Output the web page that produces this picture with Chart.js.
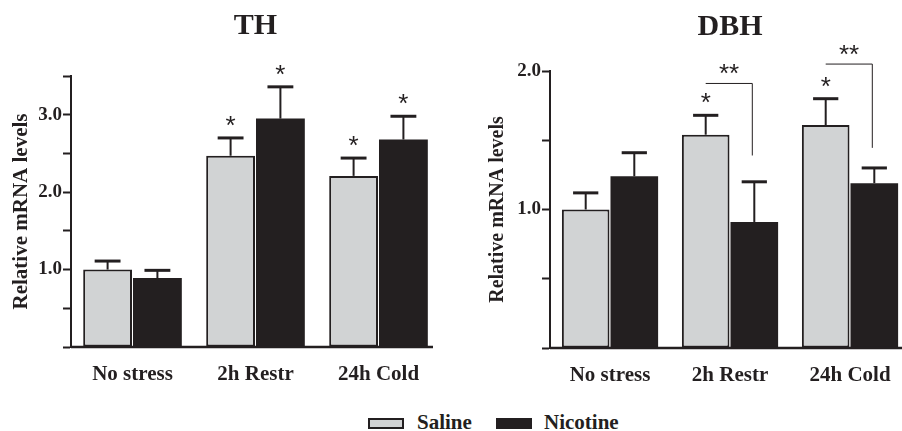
<!DOCTYPE html>
<html>
<head>
<meta charset="utf-8">
<script src="https://cdn.jsdelivr.net/npm/chart.js@4/dist/chart.umd.min.js"></script>
<style>
  html, body { margin: 0; padding: 0; background: #fff; }
  #page { position: relative; width: 902px; height: 431px; overflow: hidden; }
  #th { position: absolute; left: 0; top: 0; }
  #dbh { position: absolute; left: 470px; top: 0; }
  .key { position: absolute; top: 411px; height: 22px; font: bold 21px/22px "Liberation Serif", "Times New Roman", serif; color: #231f20; white-space: nowrap; }
  .swatch { position: absolute; top: 418px; width: 36px; height: 11px; box-sizing: border-box; border: 2px solid #231f20; }
</style>
</head>
<body>
<div id="page">
  <canvas id="th" width="450" height="400"></canvas>
  <canvas id="dbh" width="460" height="400"></canvas>
  <div class="swatch" style="left:368px;background:#d1d3d4;"></div>
  <div class="key" style="left:417px;">Saline</div>
  <div class="swatch" style="left:496px;background:#231f20;"></div>
  <div class="key" style="left:544px;">Nicotine</div>
</div>
<script>
// Groups along the x axis
const categories = ['No stress', '2h Restr', '24h Cold'];

// TH: mean relative mRNA and SEM
const thSaline = [1.00, 2.47, 2.21];
const thSalineSem = [0.11, 0.23, 0.23];
const thNicotine = [0.89, 2.95, 2.68];
const thNicotineSem = [0.10, 0.41, 0.30];
const thSalineMarks = ['', '*', '*'];
const thNicotineMarks = ['', '*', '*'];
const thTickLabels = ['1.0', '2.0', '3.0'];

// DBH: mean relative mRNA and SEM
const dbhSaline = [1.00, 1.54, 1.61];
const dbhSalineSem = [0.12, 0.14, 0.19];
const dbhNicotine = [1.24, 0.91, 1.19];
const dbhNicotineSem = [0.17, 0.29, 0.11];
const dbhSalineMarks = ['', '*', '*'];
const dbhNicotineMarks = ['', '', ''];
const dbhTickLabels = ['1.0', '2.0'];

// Saline vs nicotine comparison brackets (DBH)
const dbhPairMarks = ['', '**', '**'];
const dbhPairLevel = [null, 1.91, 2.05];
const dbhPairDrop = [null, 1.39, 1.445];

const INK = '#231f20';
const GREY = '#d1d3d4';
const SERIF = '"Liberation Serif", "Times New Roman", serif';
const STAR_FONT = '26px "Liberation Sans", Arial, sans-serif';

// Draws the x axis line, error bars, significance marks, brackets and panel title
const decorations = {
  id: 'decorations',
  afterDatasetsDraw(chart, args, opts) {
    const { ctx, chartArea, scales: { x, y } } = chart;
    ctx.save();
    ctx.strokeStyle = INK;
    ctx.fillStyle = INK;
    ctx.lineCap = 'butt';

    // x axis line
    ctx.lineWidth = 2.5;
    ctx.beginPath();
    ctx.moveTo(chartArea.left, chartArea.bottom);
    ctx.lineTo(chartArea.right - 7, chartArea.bottom);
    ctx.stroke();

    // error bars and per-bar marks
    chart.data.datasets.forEach((ds, di) => {
      const meta = chart.getDatasetMeta(di);
      meta.data.forEach((bar, i) => {
        const top = y.getPixelForValue(ds.data[i] + ds.sem[i]);
        const half = bar.width * 0.265;
        ctx.lineWidth = 2;
        ctx.beginPath();
        ctx.moveTo(bar.x, bar.y);
        ctx.lineTo(bar.x, top);
        ctx.stroke();
        ctx.lineWidth = 3;
        ctx.beginPath();
        ctx.moveTo(bar.x - half, top);
        ctx.lineTo(bar.x + half, top);
        ctx.stroke();
        if (ds.marks[i]) {
          ctx.font = STAR_FONT;
          ctx.textAlign = 'center';
          ctx.textBaseline = 'alphabetic';
          ctx.fillText(ds.marks[i], bar.x, top - 4);
        }
      });
    });

    // comparison brackets
    if (opts.pairMarks) {
      const s = chart.getDatasetMeta(0).data;
      const n = chart.getDatasetMeta(1).data;
      opts.pairMarks.forEach((mark, i) => {
        if (!mark) return;
        const yl = y.getPixelForValue(opts.pairLevel[i]);
        const yd = y.getPixelForValue(opts.pairDrop[i]);
        const x0 = s[i].x;
        const x1 = n[i].x - 2;
        ctx.lineWidth = 1;
        ctx.beginPath();
        ctx.moveTo(x0, yl);
        ctx.lineTo(x1, yl);
        ctx.lineTo(x1, yd);
        ctx.stroke();
        ctx.font = STAR_FONT;
        ctx.textAlign = 'center';
        ctx.textBaseline = 'alphabetic';
        ctx.fillText(mark, (x0 + x1) / 2, yl - 1);
      });
    }

    // panel title
    ctx.font = 'bold 30px ' + SERIF;
    ctx.textAlign = 'center';
    ctx.textBaseline = 'alphabetic';
    ctx.fillText(opts.title, (chartArea.left + chartArea.right) / 2, opts.titleBase);
    ctx.restore();
  }
};

function makeChart(id, cfg) {
  return new Chart(document.getElementById(id), {
    type: 'bar',
    data: {
      labels: categories,
      datasets: [
        { label: 'Saline', data: cfg.saline, sem: cfg.salineSem, marks: cfg.salineMarks,
          backgroundColor: GREY, borderColor: INK, borderWidth: 2, borderSkipped: false },
        { label: 'Nicotine', data: cfg.nicotine, sem: cfg.nicotineSem, marks: cfg.nicotineMarks,
          backgroundColor: INK, borderColor: INK, borderWidth: 0 }
      ]
    },
    options: {
      responsive: false,
      animation: false,
      events: [],
      datasets: { bar: { categoryPercentage: 0.81, barPercentage: 0.98 } },
      layout: { padding: { left: 0, right: cfg.padRight, top: cfg.padTop, bottom: 0 } },
      plugins: {
        legend: { display: false },
        tooltip: { enabled: false },
        decorations: {
          title: cfg.title, titleBase: cfg.titleBase,
          pairMarks: cfg.pairMarks, pairLevel: cfg.pairLevel, pairDrop: cfg.pairDrop
        }
      },
      scales: {
        x: {
          grid: { display: false },
          border: { display: false },
          ticks: { color: INK, font: { family: SERIF, size: 21, weight: 'bold' }, padding: 7,
                   maxRotation: 0, autoSkip: false },
          afterFit(s) { s.height = cfg.xHeight; }
        },
        y: {
          min: 0, max: cfg.max,
          ticks: {
            stepSize: 0.5, autoSkip: false, padding: 1, color: INK,
            font: { family: SERIF, size: 19, weight: 'bold' },
            callback: v => cfg.tickLabels.includes(Number(v).toFixed(1)) ? Number(v).toFixed(1) : ''
          },
          grid: { drawOnChartArea: false, drawTicks: true, tickLength: 8, tickWidth: 2, tickColor: INK },
          border: { display: true, color: INK, width: 2 },
          title: { display: true, text: 'Relative mRNA levels', color: INK,
                   font: { family: SERIF, size: cfg.yTitleSize, weight: 'bold' },
                   padding: { top: cfg.yTitlePad, bottom: 0 } },
          afterFit(s) { s.width = cfg.yWidth; }
        }
      }
    },
    plugins: [decorations]
  });
}

makeChart('th', {
  saline: thSaline, salineSem: thSalineSem, salineMarks: thSalineMarks,
  nicotine: thNicotine, nicotineSem: thNicotineSem, nicotineMarks: thNicotineMarks,
  tickLabels: thTickLabels, max: 3.5,
  title: 'TH', titleBase: 34,
  padRight: 10, padTop: 76, xHeight: 53, yWidth: 71,
  yTitleSize: 21, yTitlePad: 9
});

makeChart('dbh', {
  saline: dbhSaline, salineSem: dbhSalineSem, salineMarks: dbhSalineMarks,
  nicotine: dbhNicotine, nicotineSem: dbhNicotineSem, nicotineMarks: dbhNicotineMarks,
  tickLabels: dbhTickLabels, max: 2.0,
  title: 'DBH', titleBase: 35,
  pairMarks: dbhPairMarks, pairLevel: dbhPairLevel, pairDrop: dbhPairDrop,
  padRight: 20, padTop: 71, xHeight: 52, yWidth: 80,
  yTitleSize: 20, yTitlePad: 16
});
</script>
</body>
</html>
